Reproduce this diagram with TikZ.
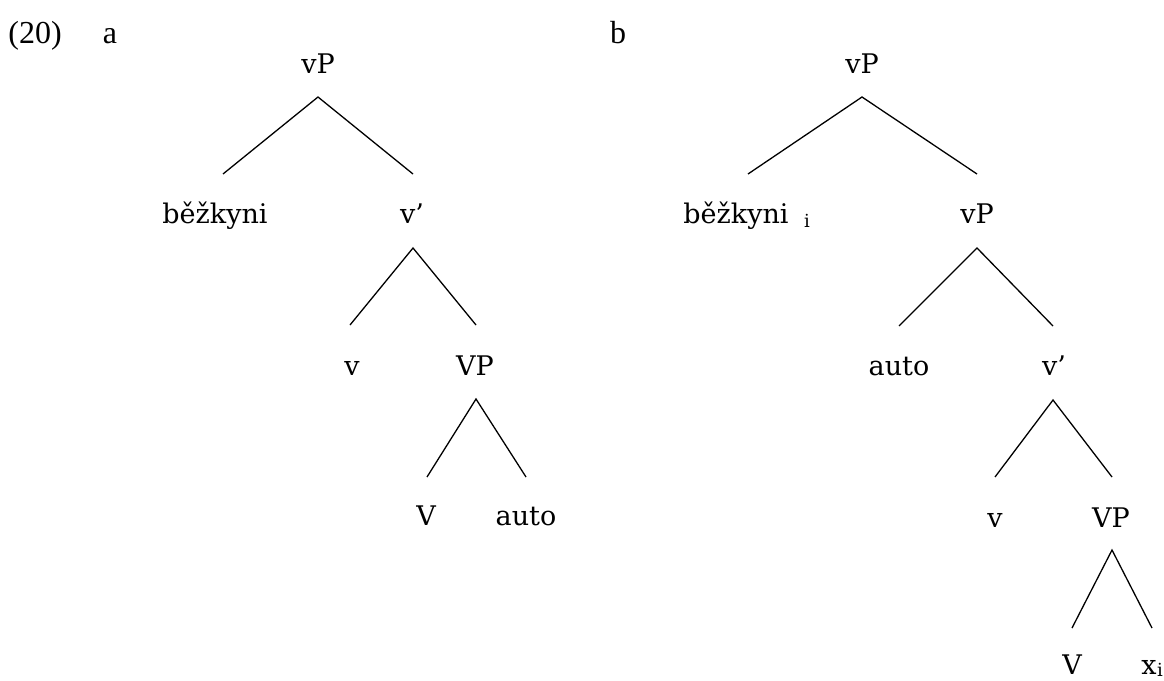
\documentclass[tikz,border=0pt]{standalone}
\usepackage{fontspec}
\setmainfont{Liberation Serif}
\newfontfamily\treefont{DejaVu Serif}
\begin{document}
\begin{tikzpicture}[x=1pt,y=-1pt,
  lbl/.style={font=\fontsize{32}{36}\selectfont, anchor=base, inner sep=0pt},
  tn/.style={font=\treefont\fontsize{27}{32}\selectfont, anchor=base, inner sep=0pt},
  sub/.style={font=\treefont\fontsize{18}{20}\selectfont, anchor=base, inner sep=0pt},
  br/.style={line width=1.3pt, black}]
\useasboundingbox (0,0) rectangle (1164,680);
% labels
\node[lbl] (ex) at (35,43) {(20)};
\node[lbl] (la) at (110,43) {a};
\node[lbl] (lb) at (618,43) {b};
% tree a
\node[tn] (a1) at (318,73) {vP};
\node[tn] (a2) at (215,223) {běžkyni};
\node[tn] (a3) at (412,223) {v’};
\node[tn] (a4) at (352,375) {v};
\node[tn] (a5) at (475,375) {VP};
\node[tn] (a6) at (426,525) {V};
\node[tn] (a7) at (526,525) {auto};
\coordinate (pa1) at (318,97);
\coordinate (la1) at (223,174);
\coordinate (ra1) at (413,174);
\coordinate (pa2) at (413,248);
\coordinate (la2) at (350,325);
\coordinate (ra2) at (476,325);
\coordinate (pa3) at (476,399);
\coordinate (la3) at (427,477);
\coordinate (ra3) at (526,477);
\draw[br] (la1) -- (pa1) -- (ra1);
\draw[br] (la2) -- (pa2) -- (ra2);
\draw[br] (la3) -- (pa3) -- (ra3);
% tree b
\node[tn] (b1) at (862,73) {vP};
\node[tn] (b2) at (736,223) {běžkyni};
\node[sub] (b2i) at (807,227) {i};
\node[tn] (b3) at (977,223) {vP};
\node[tn] (b4) at (899,375) {auto};
\node[tn] (b5) at (1054,375) {v’};
\node[tn] (b6) at (995,527) {v};
\node[tn] (b7) at (1111,527) {VP};
\node[tn] (b8) at (1072,674) {V};
\node[tn] (b9) at (1149,674) {x};
\node[sub] (b9i) at (1160,676) {i};
\coordinate (pb1) at (862,97);
\coordinate (lb1) at (748,174);
\coordinate (rb1) at (977,174);
\coordinate (pb2) at (977,248);
\coordinate (lb2) at (899,326);
\coordinate (rb2) at (1053,326);
\coordinate (pb3) at (1053,400);
\coordinate (lb3) at (995,477);
\coordinate (rb3) at (1112,477);
\coordinate (pb4) at (1112,550);
\coordinate (lb4) at (1072,628);
\coordinate (rb4) at (1152,628);
\draw[br] (lb1) -- (pb1) -- (rb1);
\draw[br] (lb2) -- (pb2) -- (rb2);
\draw[br] (lb3) -- (pb3) -- (rb3);
\draw[br] (lb4) -- (pb4) -- (rb4);
\end{tikzpicture}
\end{document}
